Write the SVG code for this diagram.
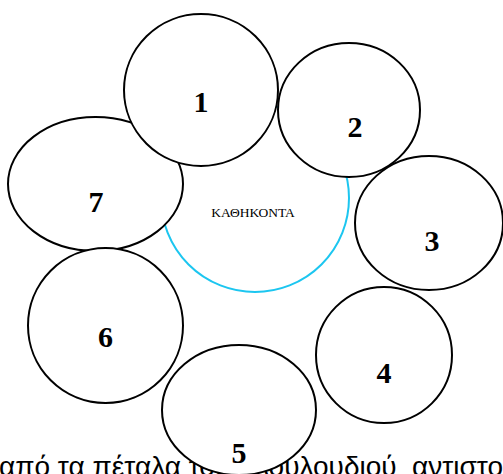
<svg xmlns="http://www.w3.org/2000/svg" width="503" height="474" viewBox="0 0 503 474">
<style>
.p{fill:#fff;stroke:#000;stroke-width:2}
.n{font-family:"Liberation Serif",serif;font-weight:bold;font-size:30px;text-anchor:middle;fill:#000}
.c{fill:#fff;stroke:#1cc6f0;stroke-width:2}
.t{font-family:"Liberation Serif",serif;font-size:13.5px;text-anchor:middle;fill:#000}
.b{font-family:"Liberation Sans",Arial,sans-serif;font-size:28px;fill:#000}
</style>
<rect width="503" height="474" fill="#fff"/>
<g id="center"><circle class="c" cx="255" cy="198" r="94"/><text class="t" x="253" y="217">ΚΑΘΗΚΟΝΤΑ</text></g>
<g id="connectors"></g>
<g id="p3"><ellipse class="p" cx="429" cy="223" rx="74" ry="67"/><text class="n" x="432" y="251">3</text></g>
<g id="p2"><ellipse class="p" cx="349" cy="110" rx="71" ry="67"/><text class="n" x="355" y="137">2</text></g>
<g id="p7"><ellipse class="p" cx="95.5" cy="184" rx="87.5" ry="67"/><text class="n" x="96" y="212">7</text></g>
<g id="p1"><ellipse class="p" cx="201" cy="90" rx="77" ry="76"/><text class="n" x="201" y="112">1</text></g>
<g id="p6"><ellipse class="p" cx="105.5" cy="325.5" rx="77.5" ry="77.5"/><text class="n" x="105.5" y="347">6</text></g>
<g id="p4"><ellipse class="p" cx="384" cy="355" rx="68" ry="68"/><text class="n" x="384" y="383">4</text></g>
<text class="b" x="-1" y="476">από τα πέταλα του <tspan x="255">λουλουδιού</tspan> <tspan x="412">αντιστο</tspan></text>
<g id="p5"><ellipse class="p" cx="239" cy="410" rx="77" ry="65"/><text class="n" x="239" y="463">5</text></g>
</svg>
